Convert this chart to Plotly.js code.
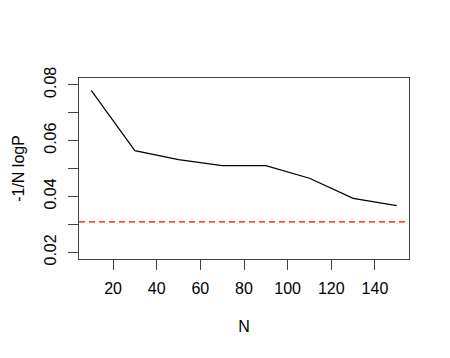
<!DOCTYPE html>
<html>
<head>
<meta charset="utf-8">
<script src="https://cdn.plot.ly/plotly-3.0.1.min.js"></script>
<style>
  html, body { margin: 0; padding: 0; background: #fff; }
  #chart { width: 450px; height: 358px; }
</style>
</head>
<body>
<div id="chart"></div>
<script>
// Data
const sizes = [10, 30, 50, 70, 90, 110, 130, 150];
const logLik = [0.0780, 0.0564, 0.0532, 0.0510, 0.0510, 0.0465, 0.0393, 0.0367];
const entropyLevel = 0.0309;

const xTicks = [20, 40, 60, 80, 100, 120, 140];
const yTicks = [0.02, 0.03, 0.04, 0.05, 0.06, 0.07, 0.08];
const yTickText = ['0.02', '', '0.04', '', '0.06', '', '0.08'];

const font = { family: 'Liberation Sans, Arial, sans-serif', size: 16, color: '#000' };

const trace = {
    x: sizes,
    y: logLik,
    type: 'scatter',
    mode: 'lines',
    line: { color: '#000', width: 1.2 },
    hoverinfo: 'skip'
};

const layout = {
    width: 450,
    height: 358,
    margin: { l: 79, r: 41, t: 78, b: 99 },
    paper_bgcolor: '#fff',
    plot_bgcolor: '#fff',
    showlegend: false,
    font: font,
    xaxis: {
        range: [4.4, 155.6],
        tickvals: xTicks,
        ticktext: xTicks.map(String),
        ticks: 'outside',
        ticklen: 10,
        tickcolor: '#444',
        ticklabelstandoff: 5,
        showgrid: false,
        zeroline: false,
        showline: true,
        mirror: true,
        linecolor: '#444',
        linewidth: 1,
        title: { text: 'N', font: font, standoff: 24 }
    },
    yaxis: {
        range: [0.0176, 0.0824],
        tickvals: yTicks,
        ticktext: yTickText,
        tickangle: -90,
        ticks: 'outside',
        ticklen: 10,
        tickcolor: '#444',
        ticklabelstandoff: 6,
        showgrid: false,
        zeroline: false,
        showline: true,
        mirror: true,
        linecolor: '#444',
        linewidth: 1,
        title: { text: '-1/N logP', font: font, standoff: 12 }
    },
    shapes: [{
        type: 'line',
        xref: 'paper', x0: 0, x1: 1,
        yref: 'y', y0: entropyLevel, y1: entropyLevel,
        line: { color: '#ff0000', width: 1.2, dash: '6px,4px' }
    }]
};

Plotly.newPlot('chart', [trace], layout, { displayModeBar: false, staticPlot: true });
</script>
</body>
</html>
